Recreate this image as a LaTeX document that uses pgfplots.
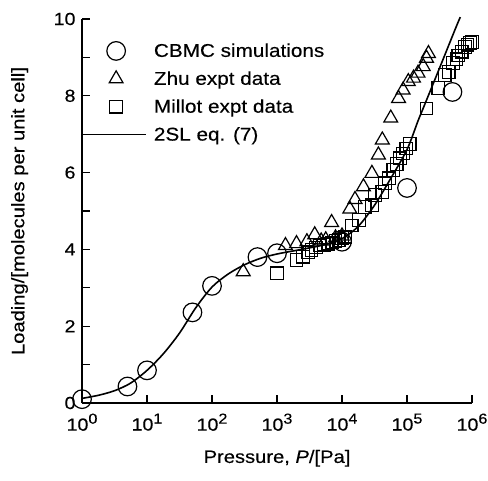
\documentclass[border=0pt]{standalone}
\usepackage{pgfplots}
\pgfplotsset{compat=1.18}
\usepackage{fontspec}
\setmainfont{Liberation Sans}[FakeStretch=1.12,FakeBold=0.25]
\newcommand{\tp}[1]{10\raisebox{7pt}{\fontsize{14.5}{16}\selectfont #1}}
\pgfplotsset{
  mkleg/.style={legend image code/.code={\path (0pt,-5pt) (60pt,5pt);
    \draw[overlay,##1] plot coordinates {(30pt,0pt)};}},
  lnleg/.style={legend image code/.code={\draw[##1,line width=1.6pt] (0pt,0pt) -- (60pt,0pt);}},
}
\begin{document}
\begin{tikzpicture}
\begin{axis}[
  scale only axis, width=390pt, height=384pt,
  xmode=log, xmin=1, xmax=1e6, ymin=0, ymax=10,
  axis x line*=bottom, axis y line*=left,
  axis line style={line width=1.3pt, black},
  tick align=inside, major tick length=8pt, minor tick length=8pt,
  every tick/.style={line width=1.1pt, black},
  xtick={1,10,100,1000,10000,100000,1000000},
  xticklabels={\tp{0},\tp{1},\tp{2},\tp{3},\tp{4},\tp{5},\tp{6}},
  xminorticks=false,
  ytick={0,2,4,6,8,10}, minor ytick={1,3,5,7,9},
  yticklabels={0,2,4,6,8,10},
  ticklabel style={font=\fontsize{17.5}{20}\selectfont},
  xticklabel style={yshift=-7pt},
  yticklabel style={xshift=-3pt},
  xlabel={Pressure, \textit{P}/[Pa]},
  ylabel={Loading/[molecules per unit cell]},
  label style={font=\fontsize{18}{21}\selectfont},
  xlabel style={at={(axis description cs:0.5,-0.156)}, anchor=base},
  ylabel style={at={(axis description cs:-0.16,0.5)}, anchor=center},
  clip=false,
  legend cell align=left,
  legend style={at={(axis description cs:0.008,0.942)}, anchor=north west,
    draw=none, fill=none, font=\fontsize{18.5}{21}\selectfont,
    row sep=9pt, inner sep=0pt,
    /tikz/every odd column/.append style={column sep=5pt}},
]
\coordinate (ll) at (rel axis cs:-0.2103,-0.203);
\coordinate (ur) at (rel axis cs:1.041,1.0495);

\addplot[only marks, mark=o, mark size=9.3pt, mark options={line width=1.2pt, black}, mkleg]
coordinates {
(1,0.1) (5,0.43) (10,0.85) (50,2.36) (100,3.05) (500,3.8) (1000,3.9)
(10000,4.2) (100000,5.6) (500000,8.1)
};
\addlegendentry{CBMC simulations}

\addplot[only marks, mark=triangle, mark size=8pt, mark options={line width=1.2pt, black}, mkleg]
coordinates {
(302,3.42) (1349,4.1) (1995,4.15) (2884,4.2) (3802,4.38) (4786,4.22)
(5623,4.25) (6918,4.7) (7943,4.3) (10000,4.35)
(13183,5.05) (15849,5.3) (21380,5.63) (28840,5.98) (36308,6.46) (41687,6.85)
(56234,7.42) (74131,7.93) (87096,8.15) (104713,8.37) (125893,8.46)
(147911,8.59) (177828,8.76) (199526,8.98) (213796,9.1)
};
\addlegendentry{Zhu expt data}

\addplot[only marks, mark=square, mark size=6.3pt, mark options={line width=1.2pt, black}, mkleg]
coordinates {
(1000,3.38) (1995,3.72) (2512,3.81) (3020,3.92) (3388,3.98) (3981,4.05)
(4571,4.1) (5248,4.12) (6026,4.15) (6918,4.18) (7943,4.22) (8913,4.25)
(10000,4.3) (11220,4.33)
(14125,4.62) (18197,4.77) (22387,5.1) (28840,5.15) (32359,5.42) (41687,5.5)
(45709,5.72) (52481,5.85) (61660,6.07) (69183,6.22) (77625,6.37) (87096,6.5)
(97724,6.63) (109648,6.75)
(199526,7.67) (301995,8.2) (380189,8.54) (436516,8.62) (512861,8.85)
(575440,8.95) (616595,9.05) (691831,9.15) (776247,9.27) (851138,9.33)
(933254,9.38) (1000000,9.4)
};
\addlegendentry{Millot expt data}

\addplot[smooth, line width=1.6pt, black, no marks, lnleg]
coordinates {
(1,0.12) (1.778,0.2) (3.162,0.32) (5.623,0.52) (10,0.85) (17.78,1.28)
(31.62,1.82) (56.23,2.48) (100,3.02) (177.8,3.36) (316.2,3.6) (562.3,3.77)
(1000,3.88) (1778,3.96) (3162,4.04) (5623,4.13) (10000,4.28) (17783,4.6)
(31623,5.15) (56234,5.85) (100000,6.6) (147911,7.35) (177828,7.68)
(316228,8.72) (562341,9.77) (660693,10.05)
};
\addlegendentry{2SL eq. (7)}
\end{axis}
\pgfresetboundingbox
\useasboundingbox (ll) rectangle (ur);
\end{tikzpicture}
\end{document}
